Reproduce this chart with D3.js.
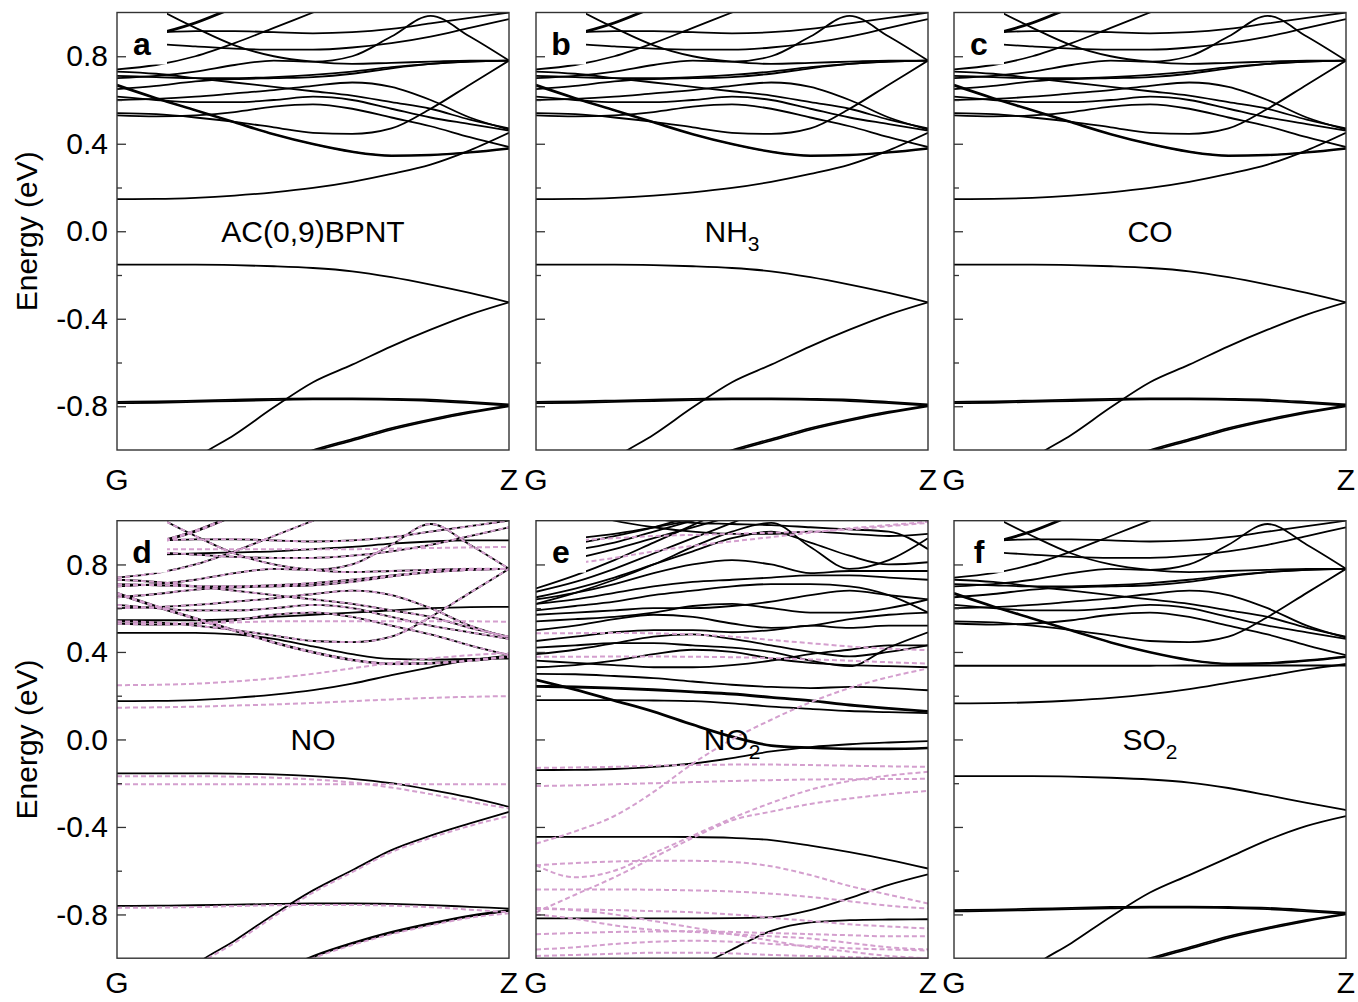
<!DOCTYPE html>
<html><head><meta charset="utf-8">
<script src="https://cdn.jsdelivr.net/npm/d3@7"></script>
<style>
body{margin:0;background:#fff}
svg text{font-family:"Liberation Sans",Arial,Helvetica,sans-serif;fill:#000}
</style></head>
<body><svg id="chart" width="1358" height="1002"></svg>
<script>
// ---------- data ----------
const kGrid = [0,0.1,0.2,0.3,0.4,0.5,0.6,0.7,0.8,0.9,1.0];
const energyDomain = [-1, 1];
const majorTicks = [-0.8,-0.4,0.0,0.4,0.8];
const minorTicks = [-0.6,-0.2,0.2,0.6];
const kPointLabels = ["G","Z"];
const panelLetters = ["a","b","c","d","e","f"];
const systemMain = ["AC(0,9)BPNT","NH","CO","NO","NO","SO"];
const systemSub  = ["","3","","","2","2"];

// pristine-like conduction bands (shared where the panels coincide)
const cbPristine = [
 [0.67,0.61,0.555,0.50,0.445,0.40,0.365,0.347,0.35,0.362,0.38],
 [0.665,0.606,0.551,0.496,0.442,0.397,0.362,0.344,0.347,0.359,0.377],
 [0.54,0.535,0.52,0.50,0.475,0.45,0.445,0.47,0.56,0.67,0.78],
 [0.53,0.525,0.53,0.545,0.57,0.58,0.56,0.52,0.48,0.43,0.385],
 [0.60,0.605,0.615,0.63,0.645,0.665,0.68,0.66,0.60,0.52,0.465],
 [0.615,0.60,0.59,0.59,0.60,0.615,0.60,0.56,0.52,0.49,0.46],
 [0.65,0.665,0.685,0.695,0.70,0.705,0.72,0.745,0.765,0.775,0.78],
 [0.71,0.705,0.70,0.70,0.705,0.715,0.73,0.75,0.765,0.775,0.78],
 [0.73,0.72,0.70,0.68,0.66,0.64,0.62,0.59,0.56,0.51,0.47],
 [0.70,0.71,0.73,0.76,0.78,0.775,0.80,0.89,0.985,0.89,0.78],
 [0.86,0.855,0.845,0.835,0.83,0.83,0.84,0.86,0.89,0.93,0.97],
 [0.91,0.91,0.915,0.915,0.91,0.905,0.91,0.925,0.95,0.975,1.0],
 [0.74,0.76,0.80,0.86,0.93,1.0,1.07,1.12,1.15,1.17,1.18],
 [0.88,0.90,0.95,1.02,1.08,1.12,1.15,1.17,1.18,1.19,1.2],
 [0.885,0.905,0.955,1.025,1.085,1.125,1.155,1.175,1.185,1.195,1.2],
 [1.12,1.02,0.93,0.85,0.80,0.775,0.765,0.77,0.775,0.78,0.78]
];
const cbLowestPristine = [0.147,0.148,0.153,0.163,0.178,0.198,0.226,0.262,0.305,0.37,0.45];
const vbPristine = [
 [-0.153,-0.153,-0.153,-0.155,-0.16,-0.168,-0.183,-0.21,-0.244,-0.282,-0.325],
 [-1.35,-1.2,-1.04,-0.93,-0.805,-0.69,-0.61,-0.526,-0.45,-0.381,-0.325],
 [-0.78,-0.778,-0.774,-0.77,-0.766,-0.764,-0.764,-0.766,-0.77,-0.78,-0.792],
 [-0.786,-0.784,-0.78,-0.776,-0.772,-0.769,-0.769,-0.771,-0.776,-0.786,-0.797],
 [-1.5,-1.35,-1.22,-1.13,-1.06,-1.0,-0.95,-0.9,-0.86,-0.825,-0.797],
 [-1.51,-1.36,-1.23,-1.14,-1.067,-1.007,-0.957,-0.907,-0.866,-0.83,-0.80]
];

// NO (panel d)
const noBlackExtra = [
 [0.175,0.176,0.18,0.19,0.205,0.225,0.255,0.294,0.33,0.363,0.382],
 [0.487,0.487,0.487,0.48,0.46,0.425,0.39,0.368,0.365,0.368,0.37],
 [0.545,0.545,0.545,0.55,0.56,0.57,0.58,0.59,0.60,0.605,0.606],
 [0.84,0.845,0.85,0.855,0.86,0.87,0.88,0.895,0.905,0.91,0.91]
];
const noBlackVB = [
 [-0.155,-0.155,-0.155,-0.156,-0.16,-0.168,-0.18,-0.2,-0.23,-0.265,-0.308],
 [-1.35,-1.2,-1.03,-0.92,-0.8,-0.69,-0.598,-0.506,-0.44,-0.384,-0.331],
 [-0.761,-0.76,-0.758,-0.755,-0.752,-0.75,-0.75,-0.752,-0.757,-0.765,-0.773],
 [-1.5,-1.36,-1.24,-1.15,-1.07,-0.99,-0.93,-0.88,-0.84,-0.805,-0.78],
 [-1.505,-1.365,-1.245,-1.155,-1.075,-0.995,-0.935,-0.885,-0.845,-0.81,-0.784]
];
const noPinkExtra = [
 [0.145,0.147,0.15,0.155,0.16,0.167,0.175,0.183,0.19,0.195,0.198],
 [0.248,0.25,0.255,0.265,0.28,0.30,0.325,0.35,0.37,0.385,0.395],
 [0.53,0.53,0.532,0.535,0.54,0.54,0.54,0.54,0.54,0.54,0.538],
 [0.87,0.87,0.87,0.87,0.87,0.87,0.87,0.872,0.875,0.878,0.88]
];
const noPinkVB = [
 [-0.168,-0.168,-0.168,-0.17,-0.175,-0.183,-0.197,-0.22,-0.25,-0.285,-0.315],
 [-0.205,-0.205,-0.205,-0.205,-0.205,-0.205,-0.205,-0.205,-0.205,-0.205,-0.205],
 [-1.36,-1.21,-1.04,-0.93,-0.81,-0.70,-0.607,-0.515,-0.45,-0.395,-0.35],
 [-0.77,-0.769,-0.766,-0.762,-0.758,-0.757,-0.757,-0.76,-0.767,-0.778,-0.79],
 [-1.51,-1.37,-1.25,-1.16,-1.08,-1.0,-0.94,-0.89,-0.85,-0.815,-0.795]
];

// NO2 (panel e)
const no2Black = [
 [0.27,0.225,0.175,0.125,0.065,0.01,-0.03,-0.04,-0.045,-0.045,-0.041],
 [0.275,0.23,0.18,0.13,0.07,0.015,-0.026,-0.036,-0.041,-0.041,-0.037],
 [0.18,0.18,0.18,0.178,0.175,0.165,0.15,0.14,0.13,0.125,0.12],
 [0.24,0.237,0.232,0.225,0.215,0.205,0.19,0.175,0.155,0.14,0.126],
 [0.245,0.242,0.237,0.23,0.22,0.21,0.195,0.18,0.16,0.144,0.13],
 [0.30,0.298,0.29,0.28,0.265,0.25,0.24,0.235,0.24,0.235,0.225],
 [0.33,0.34,0.36,0.39,0.41,0.40,0.37,0.35,0.34,0.335,0.33],
 [0.36,0.35,0.34,0.33,0.33,0.34,0.36,0.39,0.41,0.43,0.43],
 [0.39,0.41,0.44,0.47,0.48,0.46,0.43,0.40,0.38,0.40,0.43],
 [0.42,0.43,0.44,0.44,0.43,0.42,0.40,0.36,0.335,0.42,0.49],
 [0.45,0.47,0.49,0.50,0.50,0.49,0.50,0.52,0.51,0.52,0.52],
 [0.50,0.52,0.55,0.57,0.56,0.53,0.51,0.52,0.55,0.57,0.58],
 [0.54,0.55,0.56,0.58,0.61,0.62,0.60,0.58,0.58,0.60,0.64],
 [0.57,0.58,0.59,0.60,0.60,0.61,0.63,0.66,0.68,0.66,0.64],
 [0.59,0.61,0.63,0.66,0.68,0.70,0.71,0.71,0.70,0.66,0.58],
 [0.62,0.64,0.67,0.70,0.72,0.73,0.74,0.75,0.75,0.74,0.73],
 [0.64,0.67,0.71,0.76,0.80,0.82,0.80,0.76,0.77,0.77,0.77],
 [0.65,0.69,0.74,0.80,0.86,0.92,0.95,0.90,0.84,0.80,0.81],
 [0.62,0.67,0.73,0.80,0.88,0.95,0.99,0.88,0.78,0.82,0.92],
 [0.675,0.72,0.78,0.85,0.92,0.99,1.06,1.1,1.1,1.1,1.1],
 [0.69,0.75,0.82,0.90,0.98,1.06,1.12,1.15,1.15,1.15,1.15],
 [0.80,0.828,0.87,0.92,0.97,1.02,1.07,1.1,1.1,1.1,1.1],
 [0.84,0.866,0.90,0.95,1.0,1.05,1.1,1.1,1.1,1.1,1.1],
 [0.87,0.896,0.93,0.97,1.02,1.07,1.1,1.1,1.1,1.1,1.1],
 [0.90,0.919,0.94,0.97,1.0,1.03,1.06,1.1,1.1,1.1,1.1],
 [1.1,1.05,1.0,0.97,0.95,0.94,0.94,0.95,0.94,0.93,0.94],
 [1.15,1.1,1.05,1.01,0.99,0.985,0.98,0.97,0.96,0.95,0.87],
 [-0.14,-0.139,-0.135,-0.125,-0.11,-0.085,-0.055,-0.035,-0.022,-0.014,-0.008],
 [-0.445,-0.445,-0.445,-0.445,-0.446,-0.45,-0.46,-0.485,-0.515,-0.55,-0.59],
 [-0.818,-0.818,-0.818,-0.818,-0.818,-0.817,-0.812,-0.78,-0.725,-0.665,-0.617],
 [-1.4,-1.3,-1.22,-1.14,-1.05,-0.96,-0.875,-0.836,-0.826,-0.823,-0.822]
];
const no2Pink = [
 [0.78,0.805,0.83,0.86,0.885,0.905,0.925,0.945,0.965,0.98,0.995],
 [0.90,0.91,0.92,0.93,0.935,0.94,0.945,0.95,0.96,0.975,0.99],
 [0.485,0.486,0.487,0.485,0.48,0.47,0.455,0.44,0.425,0.415,0.408],
 [0.378,0.378,0.379,0.379,0.378,0.376,0.372,0.366,0.36,0.353,0.347],
 [-0.13,-0.128,-0.125,-0.12,-0.117,-0.115,-0.115,-0.117,-0.12,-0.123,-0.125],
 [-0.213,-0.21,-0.205,-0.2,-0.195,-0.19,-0.186,-0.183,-0.182,-0.181,-0.18],
 [-0.476,-0.42,-0.35,-0.24,-0.11,0.0,0.09,0.17,0.235,0.285,0.324],
 [-0.575,-0.63,-0.60,-0.52,-0.44,-0.36,-0.29,-0.23,-0.19,-0.165,-0.148],
 [-0.79,-0.71,-0.63,-0.54,-0.45,-0.37,-0.33,-0.295,-0.27,-0.25,-0.235],
 [-0.575,-0.565,-0.558,-0.555,-0.555,-0.56,-0.58,-0.62,-0.67,-0.71,-0.75],
 [-0.686,-0.686,-0.686,-0.687,-0.69,-0.695,-0.705,-0.72,-0.74,-0.76,-0.773],
 [-0.77,-0.78,-0.80,-0.83,-0.86,-0.89,-0.92,-0.95,-0.97,-0.99,-1.0],
 [-0.775,-0.777,-0.78,-0.785,-0.79,-0.80,-0.815,-0.83,-0.845,-0.855,-0.864],
 [-0.80,-0.82,-0.85,-0.87,-0.88,-0.89,-0.90,-0.91,-0.93,-0.95,-0.96],
 [-0.89,-0.885,-0.88,-0.878,-0.877,-0.88,-0.885,-0.89,-0.895,-0.90,-0.90],
 [-0.96,-0.95,-0.935,-0.925,-0.92,-0.925,-0.935,-0.945,-0.955,-0.96,-0.965],
 [-0.99,-0.985,-0.98,-0.975,-0.975,-0.978,-0.985,-0.99,-0.995,-1.0,-1.0]
];

// SO2 (panel f)
const so2Extra = [
 [0.165,0.166,0.17,0.178,0.19,0.207,0.23,0.26,0.29,0.32,0.345],
 [0.337,0.337,0.337,0.337,0.337,0.337,0.338,0.338,0.338,0.338,0.338],
 [-0.168,-0.168,-0.168,-0.17,-0.175,-0.183,-0.197,-0.222,-0.255,-0.29,-0.323],
 [-1.35,-1.2,-1.04,-0.93,-0.81,-0.70,-0.62,-0.54,-0.46,-0.395,-0.35]
];

const panelSolid = [
 cbPristine.concat([cbLowestPristine], vbPristine),
 cbPristine.concat([cbLowestPristine], vbPristine),
 cbPristine.concat([cbLowestPristine], vbPristine),
 cbPristine.concat(noBlackExtra, noBlackVB),
 no2Black,
 cbPristine.concat(so2Extra, vbPristine.slice(2))
];
const panelDashed = [
 [], [], [],
 cbPristine.concat(noPinkExtra, noPinkVB),
 no2Pink,
 []
];

// ---------- layout ----------
const colLeft = [117, 536, 954];
const rowTop = [12.5, 520.7];
const panelW = 392, panelH = 437.5;
const svg = d3.select("#chart");
const fontSize = 30;

panelLetters.forEach((letter, p) => {
  const col = p % 3, row = Math.floor(p / 3);
  const x0 = colLeft[col], y0 = rowTop[row];
  const xs = d3.scaleLinear().domain([0,1]).range([x0, x0 + panelW]);
  const ys = d3.scaleLinear().domain(energyDomain).range([y0 + panelH, y0]);
  const g = svg.append("g");
  const clipId = "clip" + p;
  svg.append("clipPath").attr("id", clipId)
    .append("rect").attr("x", x0).attr("y", y0).attr("width", panelW).attr("height", panelH);

  const line = d3.line().x((d,i) => xs(kGrid[i])).y(d => ys(d)).curve(d3.curveMonotoneX);
  const bands = g.append("g").attr("clip-path", `url(#${clipId})`);
  bands.selectAll("path.solid").data(panelSolid[p]).join("path")
    .attr("class","solid").attr("d", line)
    .attr("fill","none").attr("stroke","#000").attr("stroke-width",1.8);
  bands.selectAll("path.dash").data(panelDashed[p]).join("path")
    .attr("class","dash").attr("d", line)
    .attr("fill","none").attr("stroke","#d49fce").attr("stroke-width",2)
    .attr("stroke-dasharray","5,3");

  // system name
  const t = g.append("text").attr("x", x0 + panelW/2).attr("y", ys(0) + 11)
    .attr("text-anchor","middle").style("font-size", fontSize + "px");
  t.append("tspan").text(systemMain[p]);
  if (systemSub[p]) t.append("tspan").attr("dy", 9).style("font-size","21px").text(systemSub[p]);

  // letter box
  g.append("rect").attr("x", x0).attr("y", y0).attr("width", 50).attr("height", 52).attr("fill","#fff");
  g.append("text").attr("x", x0 + 25).attr("y", y0 + 42).attr("text-anchor","middle")
    .style("font-size","32px").style("font-weight","bold").text(letter);

  // axes
  const showLabels = col === 0;
  const axMajor = d3.axisLeft(ys).tickValues(majorTicks).tickSize(-9).tickPadding(9)
    .tickFormat(showLabels ? (d => d.toFixed(1)) : () => "");
  const ag = g.append("g").attr("transform", `translate(${x0},0)`).call(axMajor);
  ag.select(".domain").remove();
  ag.selectAll("line").attr("stroke","#333").attr("stroke-width",1.3);
  ag.selectAll("text").style("font-size", fontSize + "px").attr("fill","#000")
    .style("font-family",'"Liberation Sans",Arial,sans-serif');
  const axMinor = d3.axisLeft(ys).tickValues(minorTicks).tickSize(-5).tickFormat(() => "");
  const mg = g.append("g").attr("transform", `translate(${x0},0)`).call(axMinor);
  mg.select(".domain").remove();
  mg.selectAll("line").attr("stroke","#333").attr("stroke-width",1.3);

  // frame
  g.append("rect").attr("x", x0).attr("y", y0).attr("width", panelW).attr("height", panelH)
    .attr("fill","none").attr("stroke","#333").attr("stroke-width",1.4);

  // k-point labels
  const labY = y0 + panelH + (row === 0 ? 40 : 35);
  kPointLabels.forEach((lab, i) => {
    g.append("text").attr("x", xs(i)).attr("y", labY).attr("text-anchor","middle")
      .style("font-size", fontSize + "px").text(lab);
  });

  if (col === 0) {
    svg.append("text").attr("transform", `translate(37,${ys(0)}) rotate(-90)`)
      .attr("text-anchor","middle").style("font-size","30px").text("Energy (eV)");
  }
});
</script>
</body></html>
